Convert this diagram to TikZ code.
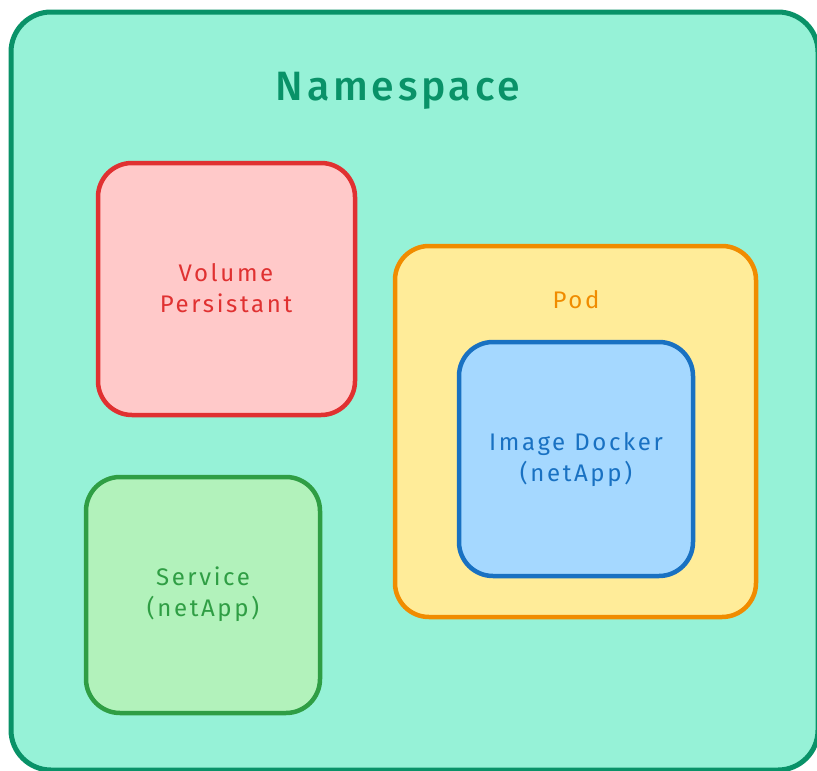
\documentclass[tikz,border=0pt]{standalone}
\usepackage{fontspec}
\setmainfont{Fira Sans}
\newfontfamily\cardfont[LetterSpace=11]{Fira Sans}
\newfontfamily\titlefont[LetterSpace=9]{Fira Sans Medium}
\definecolor{nsfill}{HTML}{96F2D7}
\definecolor{nsline}{HTML}{099268}
\definecolor{volfill}{HTML}{FFC9C9}
\definecolor{volline}{HTML}{E03131}
\definecolor{podfill}{HTML}{FFEC99}
\definecolor{podline}{HTML}{F08C00}
\definecolor{imgfill}{HTML}{A5D8FF}
\definecolor{imgline}{HTML}{1971C2}
\definecolor{svcfill}{HTML}{B2F2BB}
\definecolor{svcline}{HTML}{2F9E44}
\tikzset{
  card/.style={line width=4.5pt, rounded corners=34pt, line join=round},
  label/.style={align=center, font=\cardfont\fontsize{24}{31}\selectfont, inner sep=0pt},
}
\begin{document}
\begin{tikzpicture}[x=1pt, y=-1pt]
  \useasboundingbox (0,0) rectangle (817,771);
  \clip (0,0) rectangle (817,771);
  \fill[white] (0,0) rectangle (817,771);
  % namespace frame, running past the lower right edge
  \draw[card, line width=5pt, rounded corners=40pt, draw=nsline, fill=nsfill]
    (11,12) rectangle (818,770);
  \node[text=nsline, font=\titlefont\fontsize{41}{42}\selectfont, inner sep=0pt]
    (ns) at (398,91) {Namespace};
  % volume
  \draw[card, draw=volline, fill=volfill] (98,163) rectangle (355,415);
  \node[label, text=volline] (vol) at (226,288) {Volume\\Persistant};
  % service
  \draw[card, draw=svcline, fill=svcfill] (86,477) rectangle (320,713);
  \node[label, text=svcline] (svc) at (203,594) {Service\\(netApp)};
  % pod
  \draw[card, draw=podline, fill=podfill] (395,246) rectangle (756,617);
  \node[label, text=podline] (pod) at (576,300) {Pod};
  % image inside the pod
  \draw[card, draw=imgline, fill=imgfill] (459,342) rectangle (693,576);
  \node[label, text=imgline] (img) at (576,460) {Image Docker\\(netApp)};
\end{tikzpicture}
\end{document}
